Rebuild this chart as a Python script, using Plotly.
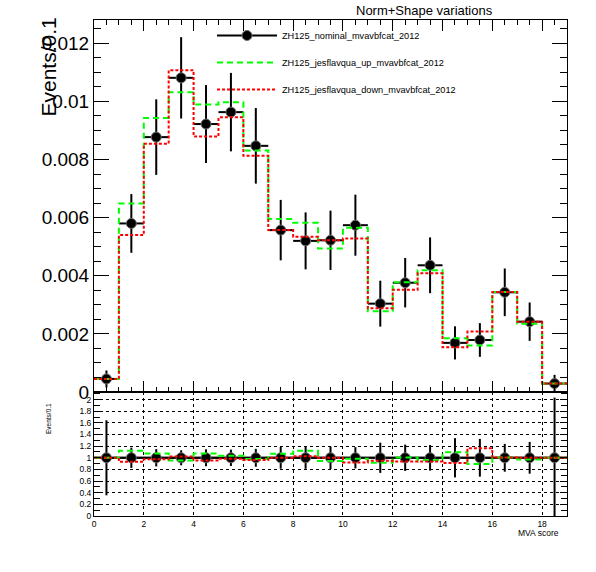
import numpy as np
import plotly.graph_objects as go

# ---- data ----
bin_edges = list(range(0, 20))          # 19 bins of width 1, MVA score 0..19
nominal = [0.00045, 0.0058, 0.00877, 0.01081, 0.00922, 0.00963, 0.00847, 0.00557,
           0.0052, 0.00522, 0.00574, 0.00304, 0.00376, 0.00436, 0.00169, 0.00179,
           0.00343, 0.00242, 0.00029]
nominal_err = [0.00029, 0.00101, 0.0013, 0.0014, 0.00134, 0.00135, 0.0013, 0.00104,
               0.00098, 0.00102, 0.00105, 0.00079, 0.00085, 0.00096, 0.00057, 0.00058,
               0.00082, 0.00066, 0.0003]
jes_up = [0.00045, 0.00649, 0.00943, 0.01031, 0.00989, 0.00997, 0.00831, 0.00595,
          0.00582, 0.00494, 0.00565, 0.00278, 0.00378, 0.00419, 0.00185, 0.0016,
          0.00344, 0.00235, 0.00029]
jes_down = [0.00045, 0.0054, 0.00854, 0.01107, 0.00879, 0.00945, 0.00813, 0.00557,
            0.00534, 0.00522, 0.00528, 0.00288, 0.00352, 0.00409, 0.00154, 0.00208,
            0.00344, 0.00242, 0.00029]
names = ["ZH125_nominal_mvavbfcat_2012", "ZH125_jesflavqua_up_mvavbfcat_2012",
         "ZH125_jesflavqua_down_mvavbfcat_2012"]
top_tickvals = [0, 0.002, 0.004, 0.006, 0.008, 0.01, 0.012]
top_ticktext = ["0", "0.002", "0.004", "0.006", "0.008", "0.01", "0.012"]
ratio_tickvals = [0, 0.2, 0.4, 0.6, 0.8, 1, 1.2, 1.4, 1.6, 1.8, 2]
ratio_ticktext = ["0", "0.2", "0.4", "0.6", "0.8", "1", "1.2", "1.4", "1.6", "1.8", "2"]
x_tickvals = [0, 2, 4, 6, 8, 10, 12, 14, 16, 18]

# ---- derived ----
edges = np.array(bin_edges, dtype=float)
centers = edges[:-1] + 0.5
halfw = np.diff(edges) / 2
nom = np.array(nominal)
nerr = np.array(nominal_err)
up = np.array(jes_up)
dn = np.array(jes_down)
r_nom = nom / nom
r_err = nerr / nom
r_up = up / nom
r_dn = dn / nom


def step_y(v):
    return list(v) + [v[-1]]


FONT = "Liberation Sans, Arial, Helvetica, sans-serif"
GREEN = "#00ff00"
RED = "#ff0000"

fig = go.Figure()

marker = dict(color="black", size=10, line=dict(color="#6e6e6e", width=1))

# legend entry for nominal (line + marker)
fig.add_trace(go.Scatter(x=[None], y=[None], mode="lines+markers", name=names[0],
                         line=dict(color="black", width=2), marker=marker,
                         legendgroup="a", xaxis="x2", yaxis="y2"))

# top panel
fig.add_trace(go.Scatter(x=centers, y=nom, mode="markers", marker=marker,
                         error_x=dict(type="data", array=halfw, width=0, thickness=2, color="black"),
                         error_y=dict(type="data", array=nerr, width=0, thickness=2, color="black"),
                         showlegend=False, xaxis="x2", yaxis="y2"))
fig.add_trace(go.Scatter(x=edges, y=step_y(up), mode="lines", line_shape="hv", name=names[1],
                         line=dict(color=GREEN, width=2, dash="6px,4px"),
                         legendgroup="b", xaxis="x2", yaxis="y2"))
fig.add_trace(go.Scatter(x=edges, y=step_y(dn), mode="lines", line_shape="hv", name=names[2],
                         line=dict(color=RED, width=2, dash="3px,2px"),
                         legendgroup="c", xaxis="x2", yaxis="y2"))

# ratio panel
fig.add_trace(go.Scatter(x=edges, y=step_y(r_nom), mode="lines", line_shape="hv",
                         line=dict(color="black", width=2), showlegend=False,
                         xaxis="x", yaxis="y"))
fig.add_trace(go.Scatter(x=centers, y=r_nom, mode="markers", marker=marker,
                         error_x=dict(type="data", array=halfw, width=0, thickness=2, color="black"),
                         error_y=dict(type="data", array=r_err, width=0, thickness=2, color="black"),
                         showlegend=False, xaxis="x", yaxis="y"))
fig.add_trace(go.Scatter(x=edges, y=step_y(r_up), mode="lines", line_shape="hv",
                         line=dict(color=GREEN, width=2, dash="6px,4px"), showlegend=False,
                         xaxis="x", yaxis="y"))
fig.add_trace(go.Scatter(x=edges, y=step_y(r_dn), mode="lines", line_shape="hv",
                         line=dict(color=RED, width=2, dash="3px,2px"), showlegend=False,
                         xaxis="x", yaxis="y"))

# page body margin is removed by post_script, so the figure fills the window
X0, X1, Y0, Y1 = 94, 567, 20, 516   # target plot frame in page pixels
W, H = 596, 572
L, T, R, B = X0, Y0, W - X1, H - Y1
PW, PH = X1 - X0, Y1 - Y0


def px(x):
    return (x - X0) / PW


def py(y):
    return (Y1 - y) / PH


fig.update_layout(
    width=W, height=H,
    margin=dict(l=L, r=R, t=T, b=B, pad=0),
    paper_bgcolor="white", plot_bgcolor="white",
    font=dict(family=FONT, color="black"),
    hovermode=False,
    xaxis=dict(domain=[0, 1], anchor="y", range=[0, 19], tickvals=x_tickvals,
               ticks="", ticklen=0,
               showline=True, linecolor="black", linewidth=1, mirror=True,
               showgrid=True, gridcolor="black", gridwidth=1, griddash="dot",
               tickfont=dict(size=8.5), zeroline=False),
    yaxis=dict(domain=[0, 124 / PH], anchor="x", range=[0, 2.13],
               tickvals=ratio_tickvals, ticktext=ratio_ticktext,
               ticks="inside", ticklen=7, tickwidth=1, tickcolor="black",
               minor=dict(dtick=0.1, ticks="inside", ticklen=6, tickcolor="black", showgrid=False),
               showline=True, linecolor="black", linewidth=1, mirror="ticks",
               showgrid=True, gridcolor="black", gridwidth=1, griddash="dot",
               tickfont=dict(size=8.5), zeroline=False),
    xaxis2=dict(domain=[0, 1], anchor="y2", matches="x", range=[0, 19], tickvals=x_tickvals,
                showticklabels=False,
                ticks="inside", ticklen=11, tickwidth=1, tickcolor="black",
                minor=dict(dtick=0.5, ticks="inside", ticklen=5, tickcolor="black"),
                showline=True, linecolor="black", linewidth=1, mirror="ticks",
                showgrid=False, zeroline=False),
    yaxis2=dict(domain=[124 / PH, 1], anchor="x2", range=[0, 0.0128],
                tickvals=top_tickvals, ticktext=top_ticktext,
                ticks="inside", ticklen=15, tickwidth=1, tickcolor="black",
                minor=dict(dtick=0.0005, ticks="inside", ticklen=7, tickcolor="black"),
                showline=True, linecolor="black", linewidth=1, mirror="ticks",
                showgrid=False, zeroline=False, tickfont=dict(size=19)),
    legend=dict(x=px(212), y=py(21), xanchor="left", yanchor="top",
                bgcolor="rgba(0,0,0,0)", borderwidth=0,
                font=dict(size=9.2, family=FONT), tracegroupgap=8, itemwidth=60),
    annotations=[
        dict(text="Norm+Shape variations", x=px(424), y=py(10.5), xref="paper", yref="paper",
             showarrow=False, xanchor="center", yanchor="middle", font=dict(size=13)),
        dict(text="Events/0.1", x=px(48), y=py(16), xref="paper", yref="paper",
             showarrow=False, textangle=-90, xanchor="center", yanchor="top", font=dict(size=21)),
        dict(text="Events/0.1", x=px(48.5), y=py(401), xref="paper", yref="paper",
             showarrow=False, textangle=-90, xanchor="center", yanchor="top", font=dict(size=6.5)),
        dict(text="MVA score", x=px(561), y=py(533), xref="paper", yref="paper",
             showarrow=False, xanchor="right", yanchor="middle", font=dict(size=8.5)),
    ],
)

fig.write_html("out.html", config={"displayModeBar": False},
               post_script="document.body.style.margin='0px';document.body.style.overflow='hidden';")
